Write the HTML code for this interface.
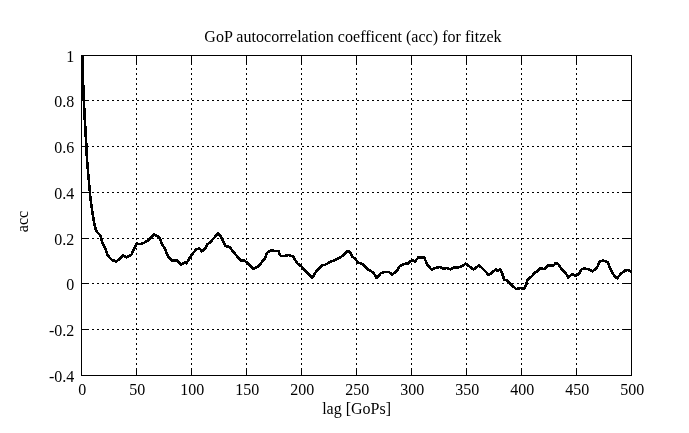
<!DOCTYPE html>
<html lang="en">
<head>
<meta charset="utf-8">
<title>GoP autocorrelation coefficent (acc) for fitzek</title>
<style>
html,body{margin:0;padding:0;background:#fff;}
body{width:689px;height:433px;overflow:hidden;}
svg{display:block;filter:grayscale(1);}
text{font-family:"Liberation Serif","DejaVu Serif",serif;font-size:16px;fill:#000;}
.grid{stroke:#000;stroke-width:1;stroke-dasharray:2 3;fill:none;shape-rendering:crispEdges;}
.ax{stroke:#000;stroke-width:1;fill:none;shape-rendering:crispEdges;}
.curve{stroke:#000;stroke-width:2.6;fill:none;stroke-linejoin:round;stroke-linecap:butt;shape-rendering:crispEdges;}
</style>
</head>
<body>
<svg width="689" height="433" viewBox="0 0 689 433">
<rect x="0" y="0" width="689" height="433" fill="#fff"/>
<g class="grid">
<line x1="136.5" y1="375" x2="136.5" y2="55.5"/>
<line x1="191.5" y1="375" x2="191.5" y2="55.5"/>
<line x1="246.5" y1="375" x2="246.5" y2="55.5"/>
<line x1="301.5" y1="375" x2="301.5" y2="55.5"/>
<line x1="356.5" y1="375" x2="356.5" y2="55.5"/>
<line x1="411.5" y1="375" x2="411.5" y2="55.5"/>
<line x1="466.5" y1="375" x2="466.5" y2="55.5"/>
<line x1="521.5" y1="375" x2="521.5" y2="55.5"/>
<line x1="576.5" y1="375" x2="576.5" y2="55.5"/>
<line x1="81.5" y1="100.5" x2="631.5" y2="100.5"/>
<line x1="81.5" y1="146.5" x2="631.5" y2="146.5"/>
<line x1="81.5" y1="192.5" x2="631.5" y2="192.5"/>
<line x1="81.5" y1="238.5" x2="631.5" y2="238.5"/>
<line x1="81.5" y1="283.5" x2="631.5" y2="283.5"/>
<line x1="81.5" y1="329.5" x2="631.5" y2="329.5"/>
</g>
<g class="ax">
<line x1="136.5" y1="375.5" x2="136.5" y2="367.5"/>
<line x1="136.5" y1="55.5" x2="136.5" y2="63.5"/>
<line x1="191.5" y1="375.5" x2="191.5" y2="367.5"/>
<line x1="191.5" y1="55.5" x2="191.5" y2="63.5"/>
<line x1="246.5" y1="375.5" x2="246.5" y2="367.5"/>
<line x1="246.5" y1="55.5" x2="246.5" y2="63.5"/>
<line x1="301.5" y1="375.5" x2="301.5" y2="367.5"/>
<line x1="301.5" y1="55.5" x2="301.5" y2="63.5"/>
<line x1="356.5" y1="375.5" x2="356.5" y2="367.5"/>
<line x1="356.5" y1="55.5" x2="356.5" y2="63.5"/>
<line x1="411.5" y1="375.5" x2="411.5" y2="367.5"/>
<line x1="411.5" y1="55.5" x2="411.5" y2="63.5"/>
<line x1="466.5" y1="375.5" x2="466.5" y2="367.5"/>
<line x1="466.5" y1="55.5" x2="466.5" y2="63.5"/>
<line x1="521.5" y1="375.5" x2="521.5" y2="367.5"/>
<line x1="521.5" y1="55.5" x2="521.5" y2="63.5"/>
<line x1="576.5" y1="375.5" x2="576.5" y2="367.5"/>
<line x1="576.5" y1="55.5" x2="576.5" y2="63.5"/>
<line x1="81.5" y1="100.5" x2="88.5" y2="100.5"/>
<line x1="631.5" y1="100.5" x2="623.5" y2="100.5"/>
<line x1="81.5" y1="146.5" x2="88.5" y2="146.5"/>
<line x1="631.5" y1="146.5" x2="623.5" y2="146.5"/>
<line x1="81.5" y1="192.5" x2="88.5" y2="192.5"/>
<line x1="631.5" y1="192.5" x2="623.5" y2="192.5"/>
<line x1="81.5" y1="238.5" x2="88.5" y2="238.5"/>
<line x1="631.5" y1="238.5" x2="623.5" y2="238.5"/>
<line x1="81.5" y1="283.5" x2="88.5" y2="283.5"/>
<line x1="631.5" y1="283.5" x2="623.5" y2="283.5"/>
<line x1="81.5" y1="329.5" x2="88.5" y2="329.5"/>
<line x1="631.5" y1="329.5" x2="623.5" y2="329.5"/>
<rect x="81.5" y="55.5" width="550" height="320"/>
</g>
<path class="curve" d="M82.5 55.0 L82.9 75.0 L83.3 88.0 L83.8 100.0 L85.0 123.0 L86.4 146.0 L87.0 160.0 L88.4 176.0 L89.9 192.0 L90.6 200.0 L92.7 213.9 L94.5 225.0 L96.2 231.0 L100.6 235.7 L102.5 243.1 L105.2 248.7 L107.9 255.6 L111.8 259.9 L116.4 261.5 L119.6 258.8 L123.0 255.1 L126.5 257.3 L131.3 255.0 L134.1 248.7 L136.8 243.5 L139.7 244.2 L144.2 242.8 L149.1 239.6 L154.0 234.3 L158.9 236.8 L163.0 245.9 L165.1 248.7 L167.9 256.3 L172.3 260.8 L177.4 260.4 L180.9 264.6 L184.4 262.5 L186.5 263.2 L191.3 255.5 L196.2 249.2 L199.7 248.6 L201.8 251.3 L204.6 249.2 L207.4 244.4 L210.8 241.6 L218.2 233.2 L221.3 237.4 L225.5 245.8 L229.6 247.2 L235.2 254.1 L240.8 260.4 L244.3 260.4 L249.5 264.7 L253.5 268.9 L258.9 265.9 L262.4 261.3 L265.2 257.9 L267.0 253.0 L270.8 250.2 L274.9 250.9 L278.4 250.9 L279.8 255.1 L281.5 256.2 L285.4 255.8 L288.9 255.1 L293.1 256.5 L297.2 263.4 L301.4 266.5 L306.3 271.8 L312.1 278.0 L316.0 271.8 L321.6 265.5 L325.1 264.8 L331.0 261.5 L337.0 259.2 L342.5 255.8 L347.4 251.3 L350.2 252.0 L352.3 256.5 L355.1 258.6 L357.9 262.3 L362.7 264.1 L368.3 269.7 L373.2 272.5 L376.7 278.0 L380.8 273.2 L385.0 271.8 L389.2 272.2 L392.0 274.6 L396.2 271.8 L399.6 266.5 L403.8 264.1 L408.0 263.4 L412.2 259.9 L415.0 261.4 L418.5 257.2 L422.6 257.2 L424.1 257.3 L427.5 264.9 L431.7 269.8 L435.2 268.0 L440.1 267.0 L442.9 268.4 L447.0 268.1 L450.5 269.5 L454.7 267.0 L456.8 267.7 L461.7 266.3 L465.8 263.6 L470.0 267.0 L473.5 269.4 L479.1 265.4 L483.9 269.8 L488.8 275.1 L492.3 272.3 L495.8 269.5 L497.9 271.2 L500.2 269.1 L502.4 274.0 L504.1 279.5 L507.6 280.9 L511.5 284.8 L516.0 289.0 L520.2 288.1 L524.4 288.5 L526.2 284.6 L527.9 279.0 L531.3 276.9 L534.8 272.7 L537.6 271.3 L540.4 268.3 L544.6 269.2 L548.0 265.5 L553.6 265.5 L555.7 263.0 L558.5 264.4 L562.0 269.9 L565.5 272.7 L568.3 277.5 L571.8 274.1 L575.3 275.7 L578.8 274.1 L581.6 269.2 L584.7 268.6 L589.2 269.5 L592.7 271.3 L596.9 267.9 L599.7 261.6 L603.2 260.6 L607.4 262.0 L610.1 267.9 L613.6 274.8 L617.1 278.3 L620.6 274.1 L624.8 270.6 L628.2 269.9 L631.4 272.0"/>
<text x="353" y="41.5" text-anchor="middle" letter-spacing="0.04">GoP autocorrelation coefficent (acc) for fitzek</text>
<text x="356.6" y="414.3" text-anchor="middle">lag [GoPs]</text>
<text transform="translate(28.1 221.5) rotate(-90)" text-anchor="middle">acc</text>
<text x="82.3" y="394.7" text-anchor="middle">0</text>
<text x="137.3" y="394.7" text-anchor="middle">50</text>
<text x="192.3" y="394.7" text-anchor="middle">100</text>
<text x="247.3" y="394.7" text-anchor="middle">150</text>
<text x="302.3" y="394.7" text-anchor="middle">200</text>
<text x="357.3" y="394.7" text-anchor="middle">250</text>
<text x="412.3" y="394.7" text-anchor="middle">300</text>
<text x="467.3" y="394.7" text-anchor="middle">350</text>
<text x="522.3" y="394.7" text-anchor="middle">400</text>
<text x="577.3" y="394.7" text-anchor="middle">450</text>
<text x="632.3" y="394.7" text-anchor="middle">500</text>
<text x="74.3" y="61.6" text-anchor="end">1</text>
<text x="74.3" y="106.6" text-anchor="end">0.8</text>
<text x="74.3" y="152.6" text-anchor="end">0.6</text>
<text x="74.3" y="198.6" text-anchor="end">0.4</text>
<text x="74.3" y="244.6" text-anchor="end">0.2</text>
<text x="74.3" y="289.6" text-anchor="end">0</text>
<text x="74.3" y="335.6" text-anchor="end">-0.2</text>
<text x="74.3" y="381.6" text-anchor="end">-0.4</text>
</svg>
</body>
</html>
